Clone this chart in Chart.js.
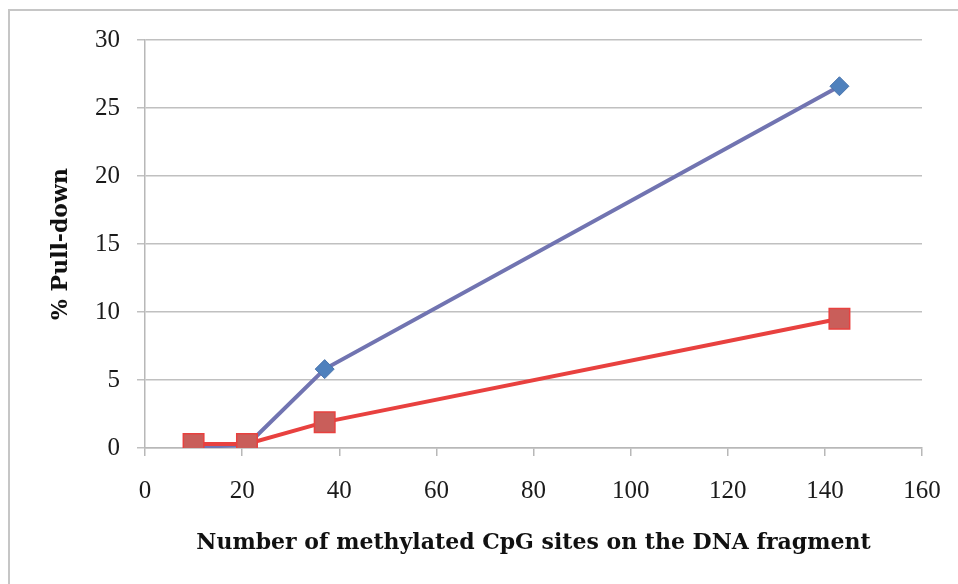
<!DOCTYPE html>
<html>
<head>
<meta charset="utf-8">
<script src="https://cdn.jsdelivr.net/npm/chart.js@4"></script>
<style>
  html, body { margin: 0; padding: 0; background: #ffffff; overflow: hidden; }
  #frame { position: absolute; left: 8px; top: 9px; width: 1100px; height: 1100px; border: 2px solid #c6c6c6; box-sizing: border-box; }
  #c { position: absolute; left: 0; top: 0; }
</style>
</head>
<body>
<div id="frame"></div>
<canvas id="c" width="958" height="584"></canvas>
<script>
const cpgSites = [10, 21, 37, 143];
const seriesBlue = [0.1, 0.2, 5.8, 26.6];
const seriesRed = [0.3, 0.3, 1.9, 9.5];
const xTicks = [0, 20, 40, 60, 80, 100, 120, 140, 160];
const yTicks = [0, 5, 10, 15, 20, 25, 30];
const xTitle = 'Number of methylated CpG sites on the DNA fragment';
const yTitle = '% Pull-down';

const serif = "'Liberation Serif', 'DejaVu Serif', serif";
const titleSerif = "'DejaVu Serif', 'Liberation Serif', serif";

function pts(xs, ys) { return xs.map((x, i) => ({ x: x, y: ys[i] })); }

new Chart(document.getElementById('c'), {
  type: 'line',
  data: {
    datasets: [
      {
        label: 'Red',
        data: pts(cpgSites, seriesRed),
        borderColor: '#e8413f',
        borderWidth: 4,
        pointStyle: 'rect',
        pointRadius: 14.5,
        pointBackgroundColor: '#c95e5a',
        pointBorderColor: '#e8413f',
        pointBorderWidth: 1.5,
        tension: 0
      },
      {
        label: 'Blue',
        data: pts(cpgSites, seriesBlue),
        borderColor: '#7174b1',
        borderWidth: 4,
        pointStyle: 'rectRot',
        pointRadius: 9.5,
        pointBackgroundColor: '#4f81bd',
        pointBorderColor: '#4a75ad',
        pointBorderWidth: 1,
        tension: 0
      }
    ]
  },
  options: {
    responsive: false,
    animation: false,
    devicePixelRatio: 1,
    layout: { autoPadding: false, padding: { top: 40, right: 36, left: 0, bottom: 0 } },
    plugins: { legend: { display: false }, tooltip: { enabled: false } },
    scales: {
      x: {
        type: 'linear',
        min: 0, max: 160,
        afterFit: (s) => { s.height = 136; s.paddingLeft = 0; s.paddingRight = 0; },
        afterBuildTicks: (s) => { s.ticks = xTicks.map(v => ({ value: v })); },
        ticks: { color: '#1a1a1a', font: { family: serif, size: 25 }, padding: 20, maxRotation: 0 },
        grid: { drawOnChartArea: false, drawTicks: true, tickLength: 8, color: '#b8b8b8', lineWidth: 1.5 },
        border: { display: true, color: '#b8b8b8', width: 1.5 },
        title: { display: true, text: xTitle, color: '#111', font: { family: titleSerif, size: 22, weight: 'bold' }, padding: { top: 0, bottom: 28 } }
      },
      y: {
        type: 'linear',
        min: 0, max: 30,
        afterFit: (s) => { s.width = 145; },
        afterBuildTicks: (s) => { s.ticks = yTicks.map(v => ({ value: v })); },
        ticks: { color: '#1a1a1a', font: { family: serif, size: 25 }, padding: 17 },
        grid: { drawOnChartArea: true, drawTicks: true, tickLength: 8, color: '#c0c0c0', lineWidth: 1.5 },
        border: { display: true, color: '#b8b8b8', width: 1.5 },
        title: { display: true, text: yTitle, color: '#111', font: { family: titleSerif, size: 22, weight: 'bold' }, padding: { top: 48, bottom: 0 } }
      }
    }
  }
});
</script>
</body>
</html>
